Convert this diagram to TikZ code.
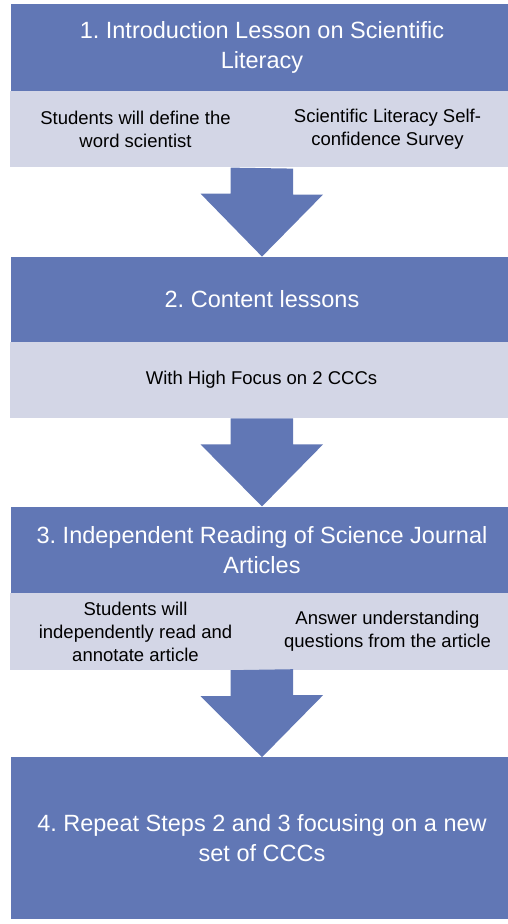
\documentclass[tikz,border=0pt]{standalone}
\usepackage{fontspec}
\setmainfont{Liberation Sans}
\usepackage{tikz}
\usetikzlibrary{positioning,calc}
\definecolor{stepblue}{RGB}{97,119,181}
\definecolor{notefill}{RGB}{211,214,230}
\frenchspacing
\tikzset{
  stepbox/.style = {rectangle, fill=stepblue, text=white, align=center,
    inner sep=0pt, minimum width=502pt, font=\fontsize{23.5}{30}\selectfont},% main step
  notebar/.style = {rectangle, fill=notefill, inner sep=0pt,
    minimum width=503pt, minimum height=76pt},% grey band under a step
  notetext/.style = {align=center, inner sep=0pt, text=black,
    font=\fontsize{18.5}{23}\selectfont},
  downarrow/.style = {fill=stepblue}
}
% block arrow from the bottom of #1 to the top of #2
\newcommand{\stepdown}[2]{%
  \fill[downarrow] ($(#1.south)+(-31pt,0)$) -- ++(0,-26pt) -- ++(-30pt,0)
    -- (#2.north) -- ++(61pt,62pt) -- ++(-30pt,0) -- ++(0,26pt) -- cycle;}

\begin{document}
\begin{tikzpicture}
	\useasboundingbox (0,0) rectangle (507pt,-924pt);
	\node [stepbox, minimum height=87pt] (step1) at (262pt,-47.5pt)
		{1. Introduction Lesson on Scientific\\Literacy};
	\node [notebar, below=0pt of step1, xshift=-0.5pt] (note1) {};
	\node [notetext] (note1a) at ([xshift=-126pt]note1.center)
		{Students will define the\\word scientist};
	\node [notetext] (note1b) at ([xshift=126pt]note1.center)
		{Scientific Literacy Self-\\confidence Survey};

	\node [stepbox, minimum height=85pt, below=89pt of note1, xshift=0.5pt] (step2)
		{2. Content lessons};
	\node [notebar, below=0pt of step2, xshift=-0.5pt] (note2) {};
	\node [notetext] (note2a) at (note2.center) {With High Focus on 2 CCCs};

	\node [stepbox, minimum height=86pt, below=88pt of note2, xshift=0.5pt] (step3)
		{3. Independent Reading of Science Journal\\Articles};
	\node [notebar, minimum height=77pt, below=0pt of step3, xshift=-0.5pt] (note3) {};
	\node [notetext] (note3a) at ([xshift=-126pt]note3.center)
		{Students will\\independently read and\\annotate article};
	\node [notetext] (note3b) at ([xshift=126pt]note3.center)
		{Answer understanding\\questions from the article};

	\node [stepbox, minimum height=162pt, below=87pt of note3, xshift=0.5pt] (step4)
		{4. Repeat Steps 2 and 3 focusing on a new\\set of CCCs};

	\stepdown{note1}{step2}
	\stepdown{note2}{step3}
	\stepdown{note3}{step4}
\end{tikzpicture}
\end{document}
